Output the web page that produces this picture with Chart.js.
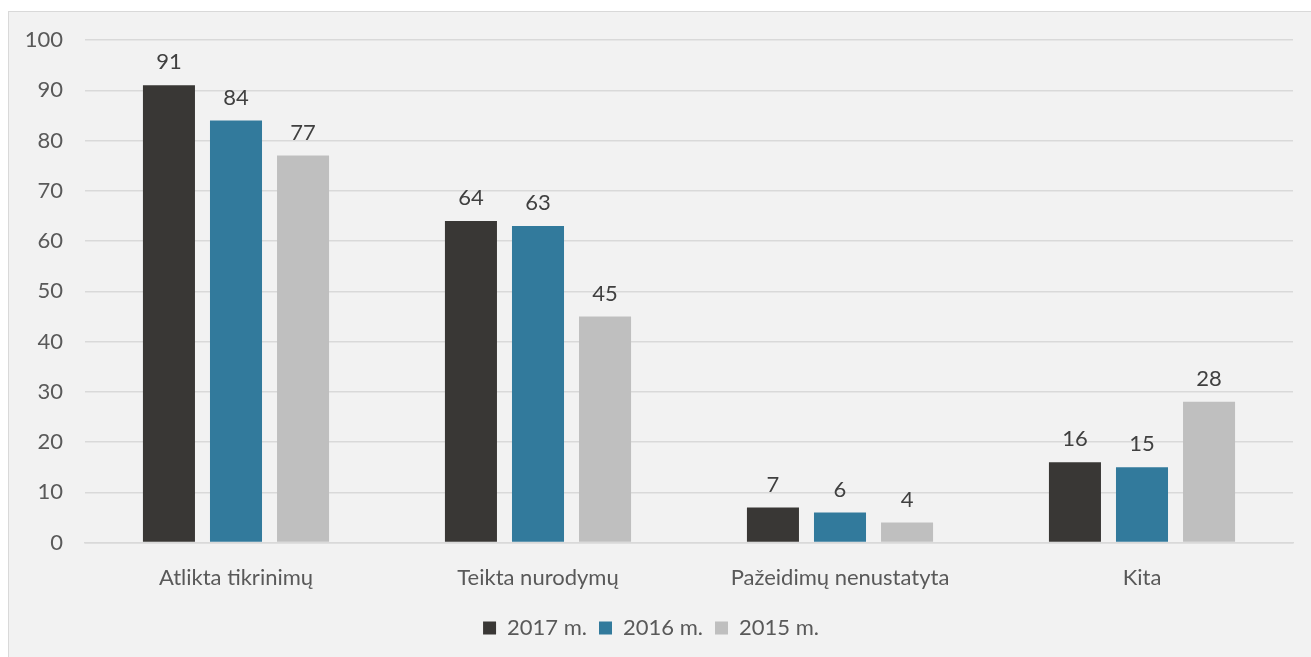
<!DOCTYPE html>
<html>
<head>
<meta charset="utf-8">
<script src="https://cdn.jsdelivr.net/npm/chart.js@4"></script>
<style>
html,body{margin:0;padding:0;background:#fff;width:1311px;height:657px;overflow:hidden;}
#box{position:absolute;left:8px;top:11px;width:1303px;height:646px;box-sizing:border-box;border:1px solid #d9d9d9;border-right:none;border-bottom:none;background:#f2f2f2;}
#wrap{position:absolute;left:0;top:0;width:1302px;height:645px;}
</style>
</head>
<body>
<div id="box"><div id="wrap"><canvas id="c"></canvas></div></div>
<script>
const categories = ["Atlikta tikrinimų", "Teikta nurodymų", "Pažeidimų nenustatyta", "Kita"];
const seriesNames = ["2017 m.", "2016 m.", "2015 m."];
const values2017 = [91, 64, 7, 16];
const values2016 = [84, 63, 6, 15];
const values2015 = [77, 45, 4, 28];
const yTicks = [0, 10, 20, 30, 40, 50, 60, 70, 80, 90, 100];

const FONT = "Lato";
const FS = 22;
const colors = ["#393735", "#327a9c", "#bfbfbf"];

const labelPlugin = {
  id: 'valueLabels',
  afterDatasetsDraw(chart) {
    const ctx = chart.ctx;
    ctx.save();
    ctx.font = FS + "px " + FONT;
    ctx.fillStyle = "#404040";
    ctx.textAlign = "center";
    ctx.textBaseline = "bottom";
    chart.data.datasets.forEach((ds, i) => {
      const meta = chart.getDatasetMeta(i);
      meta.data.forEach((bar, j) => {
        ctx.fillText(String(ds.data[j]), bar.x, bar.y - 12);
      });
    });
    ctx.restore();
  }
};

new Chart(document.getElementById('c'), {
  type: 'bar',
  data: {
    labels: categories,
    datasets: [
      { label: seriesNames[0], data: values2017, backgroundColor: colors[0] },
      { label: seriesNames[1], data: values2016, backgroundColor: colors[1] },
      { label: seriesNames[2], data: values2015, backgroundColor: colors[2] }
    ]
  },
  options: {
    responsive: true,
    maintainAspectRatio: false,
    animation: false,
    datasets: { bar: { categoryPercentage: 0.666, barPercentage: 0.776 } },
    layout: { padding: { top: 28, right: 18, left: 0, bottom: 8 } },
    plugins: {
      legend: {
        position: 'bottom',
        labels: {
          font: { family: FONT, size: FS },
          color: "#595959",
          boxWidth: 13, boxHeight: 13,
          padding: 12
        }
      },
      tooltip: { enabled: false }
    },
    scales: {
      x: {
        grid: { display: false },
        border: { display: true, color: "#d9d9d9", width: 1.5 },
        ticks: { font: { family: FONT, size: FS }, color: "#595959", padding: 14 }
      },
      y: {
        min: 0, max: 100,
        afterBuildTicks(s) { s.ticks = yTicks.map(v => ({ value: v })); },
        afterFit(s) { s.width = 76; s.paddingTop = 0; s.paddingBottom = 0; },
        grid: { color: "#d9d9d9", lineWidth: 1.5, drawTicks: false },
        border: { display: false },
        ticks: { font: { family: FONT, size: FS }, color: "#595959", padding: 22 }
      }
    }
  },
  plugins: [labelPlugin]
});
</script>
</body>
</html>
